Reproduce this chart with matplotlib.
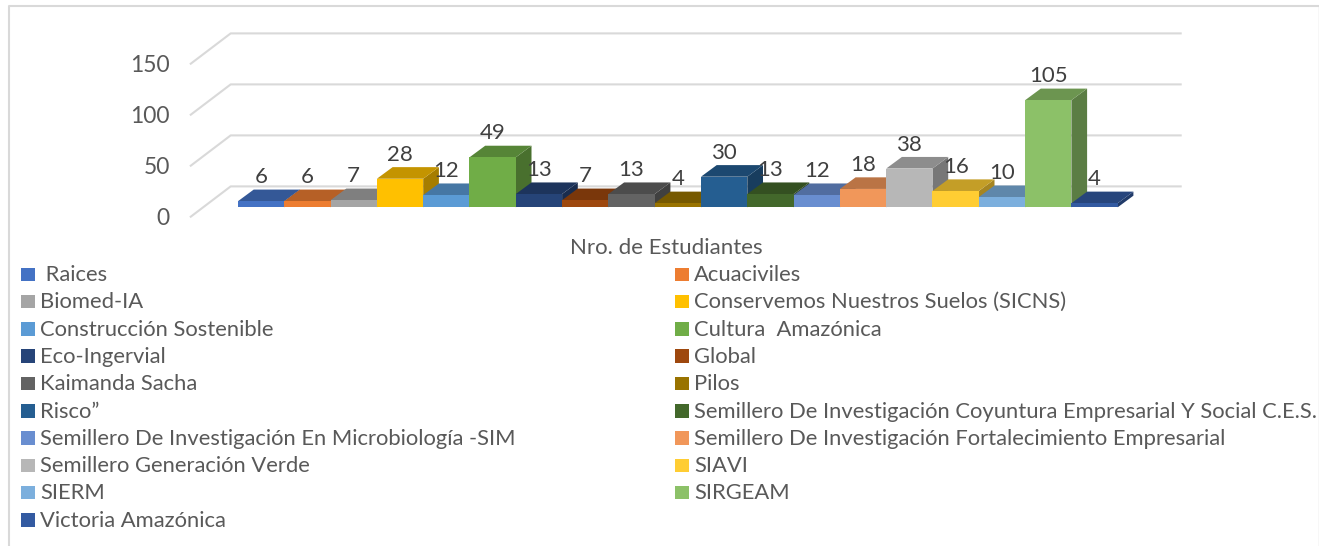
import matplotlib
matplotlib.use('Agg')
import matplotlib.pyplot as plt
from matplotlib.colors import to_rgb
from matplotlib.patches import Polygon, Rectangle

# === DATA ===
groups = [' Raices', 'Acuaciviles', 'Biomed-IA', 'Conservemos Nuestros Suelos (SICNS)',
          'Construcción Sostenible', 'Cultura  Amazónica', 'Eco-Ingervial', 'Global',
          'Kaimanda Sacha', 'Pilos', 'Risco”',
          'Semillero De Investigación Coyuntura Empresarial Y Social C.E.S.',
          'Semillero De Investigación En Microbiología -SIM',
          'Semillero De Investigación Fortalecimiento Empresarial',
          'Semillero Generación Verde', 'SIAVI', 'SIERM', 'SIRGEAM', 'Victoria Amazónica']
students = [6, 6, 7, 28, 12, 49, 13, 7, 13, 4, 30, 13, 12, 18, 38, 16, 10, 105, 4]
colors = ['#4472C4', '#ED7D31', '#A5A5A5', '#FFC000', '#5B9BD5', '#70AD47', '#264478',
          '#9E480E', '#636363', '#997300', '#255E91', '#43682B', '#698ED0', '#F1975A',
          '#B7B7B7', '#FFCD33', '#7CAFDD', '#8CC168', '#335AA1']
value_ticks = [0, 50, 100, 150]
axis_title = 'Nro. de Estudiantes'

W, H = 1319, 546
plt.rcParams['font.family'] = ['Lato', 'DejaVu Sans']


def shade(color, k):
    return tuple(c * k for c in to_rgb(color))


fig = plt.figure(figsize=(W / 100, H / 100), dpi=100)

# frame of the chart area, in figure pixels
bg = fig.add_axes([0, 0, 1, 1])
bg.set_xlim(0, W)
bg.set_ylim(H, 0)
bg.axis('off')
bg.plot([9, 9, 1318], [H, 6, 6], color='#D9D9D9', lw=1.5)
bg.plot([1318.5, 1318.5], [6, H], color='#D9D9D9', lw=1)

# axes: one bar per x unit, y in students
px_per_val = 1.02
left, base, bar_w = 238, 207.3, 46.3
ax = fig.add_axes([left / W, (H - base) / H, bar_w * 19 / W, 150 * px_per_val / H])
ax.set_xlim(0, 19)
ax.set_ylim(0, 150)
ax.axis('off')
ax.patch.set_alpha(0)

depth_x, depth_y = 15.7 / bar_w, 11.6 / px_per_val

# gridlines on the wall and the floor
for v in value_ticks:
    ax.plot([-1.02, -0.158, 20.36], [v - 9.2, v + 20.5, v + 20.5], color='#D9D9D9',
            lw=1.5, clip_on=False, zorder=1)
    ax.text(-1.47, v - 10.5, str(v), ha='right', va='center', fontsize=16.5,
            color='#595959', clip_on=False)

# left to right, so each bar hides the lower part of its neighbour's side
for i, v in enumerate(students):
    top = [(i, v), (i + 1, v), (i + 1 + depth_x, v + depth_y), (i + depth_x, v + depth_y)]
    side = [(i + 1, 0), (i + 1 + depth_x, depth_y), (i + 1 + depth_x, v + depth_y), (i + 1, v)]
    ax.add_patch(Polygon(side, fc=shade(colors[i], 0.65), ec='none', clip_on=False, zorder=2))
    ax.add_patch(Polygon(top, fc=shade(colors[i], 0.77), ec='none', clip_on=False, zorder=2))
    ax.add_patch(Rectangle((i, 0), 1, v, fc=colors[i], ec='none', clip_on=False, zorder=2))
    ax.text(i + 0.5, v + 23.5, str(v), ha='center', va='center', fontsize=16,
            color='#404040', clip_on=False, zorder=5)

bg.text(666, 248.5, axis_title, ha='center', va='center', fontsize=16, color='#595959')

# legend, two columns, filled row by row
for i, name in enumerate(groups):
    row = i // 2
    y = 274 + row * 27.3
    sq_x, txt_x = (21, 40) if i % 2 == 0 else (675, 694)
    bg.add_patch(Rectangle((sq_x, y - 6.5), 13.5, 13.5, fc=colors[i], ec='none'))
    bg.text(txt_x, y + 1, name, ha='left', va='center', fontsize=15.8, color='#595959')

fig.savefig('out.png', dpi=100)
